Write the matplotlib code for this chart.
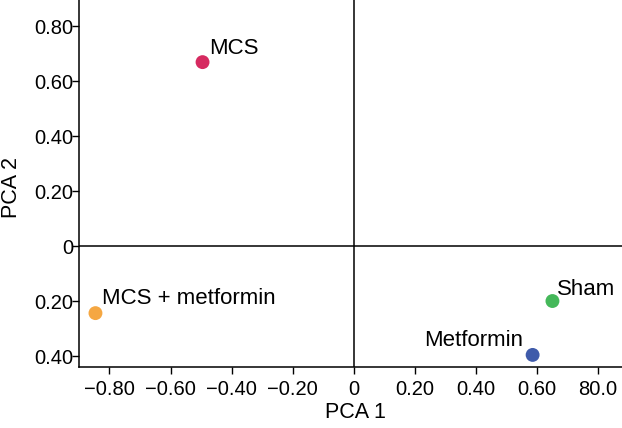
import matplotlib
matplotlib.use("Agg")
import matplotlib.pyplot as plt

plt.rcParams['font.family'] = ['Liberation Sans', 'DejaVu Sans']

# data
groups = ['MCS', 'MCS + metformin', 'Sham', 'Metformin']
pca1 = [-0.495, -0.846, 0.652, 0.587]
pca2 = [0.669, -0.244, -0.200, -0.396]
colors = ['#D62A60', '#F5A742', '#45B85A', '#3F5BAA']

x_ticks = [-0.8, -0.6, -0.4, -0.2, 0, 0.2, 0.4, 0.6, 0.8]
x_labels = ['\u22120.80', '\u22120.60', '\u22120.40', '\u22120.20', '0', '0.20', '0.40', '0.60', '80.0']
y_ticks = [0.8, 0.6, 0.4, 0.2, 0, -0.2, -0.4]
y_labels = ['0.80', '0.60', '0.40', '0.20', '0', '0.20', '0.40']

# label offsets in points (dx, dy, ha)
offsets = {'MCS': (5, 2, 'left'), 'MCS + metformin': (5, 3, 'left'),
           'Sham': (3, 1, 'left'), 'Metformin': (-7, 3, 'right')}

fig = plt.figure(figsize=(6.22, 4.28), dpi=100)
ax = fig.add_axes([0.127, 0.1425, 0.873, 0.8575])

ax.axhline(0, color='black', lw=1.1, zorder=1)
ax.axvline(0, color='black', lw=1.1, zorder=1)

ax.scatter(pca1, pca2, s=100, c=colors, zorder=3, linewidths=0)

for name, x, y in zip(groups, pca1, pca2):
    dx, dy, ha = offsets[name]
    ax.annotate(name, (x, y), xytext=(dx, dy), textcoords='offset points',
                ha=ha, va='bottom', fontsize=16)

ax.set_xlim(-0.90, 0.88)
ax.set_ylim(-0.44, 0.895)
ax.set_xticks(x_ticks)
ax.set_xticklabels(x_labels)
ax.set_yticks(y_ticks)
ax.set_yticklabels(y_labels)
ax.tick_params(labelsize=14.5, length=5, width=1, direction='out')
ax.tick_params(axis='y', pad=-1)
ax.tick_params(axis='x', pad=4)

ax.set_xlabel('PCA 1', fontsize=15.5)
ax.xaxis.set_label_coords(0.51, -0.095)
ax.set_ylabel('PCA 2', fontsize=15.5)
ax.yaxis.set_label_coords(-0.105, 0.49)

ax.spines['top'].set_visible(False)
ax.spines['right'].set_visible(False)
ax.spines['left'].set_linewidth(1.1)
ax.spines['bottom'].set_linewidth(1.1)

fig.savefig('out.png', dpi=100, facecolor='white')
